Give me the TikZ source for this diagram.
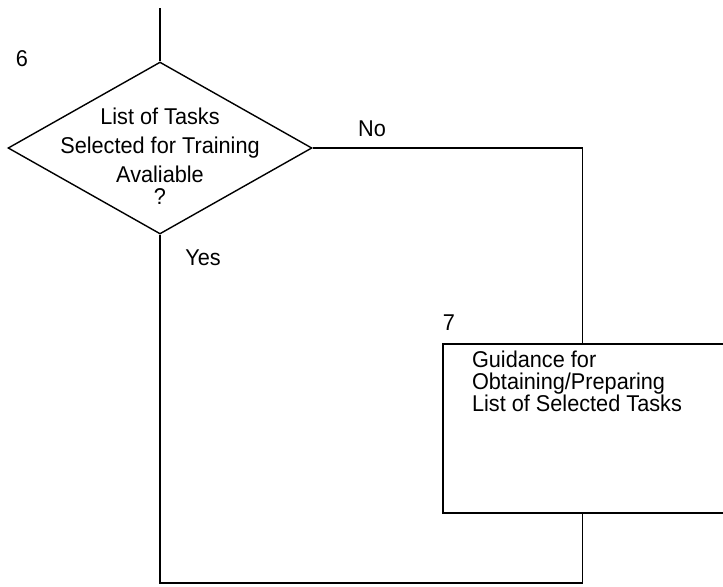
\documentclass[tikz,border=0pt]{standalone}
\usepackage{fontspec}
\setmainfont{Liberation Sans}[FakeStretch=0.95]
\usepackage{tikz}
\usetikzlibrary{shapes.geometric}
\usetikzlibrary{positioning}

\begin{document}
\begin{tikzpicture} [
    x=0.02cm, y=-0.02cm, line width=0.8pt,
    decision/.style = {draw, diamond, minimum width=6.08cm, minimum height=3.44cm, inner sep=0pt},
    process/.style = {draw, rectangle, minimum width=6.54cm, minimum height=3.38cm, inner sep=0pt},
    txt/.style = {inner sep=0pt, font=\fontsize{13}{16.5}\selectfont}
    ]
    \clip (0,0) rectangle (723,586);
    \fill[white] (0,0) rectangle (723,586);

    \node[decision] (q6) at (160,148) {};
    \node[txt, align=center, yshift=-0.17cm] (q6txt) at (q6.center)
        {List of Tasks\\Selected for Training\\Avaliable\\[-4pt]?};
    \node[txt] (lab6) at (22,59) {6};

    \node[process] (t7) at (606.5,428.5) {};
    \node[txt, align=left, anchor=north west, xshift=0.58cm, yshift=-0.13cm,
          font=\fontsize{13}{12.5}\selectfont] (t7txt) at (t7.north west)
        {Guidance for\\Obtaining/Preparing\\List of Selected Tasks};
    \node[txt] (lab7) at (449,323) {7};

    \coordinate (entry) at (160,8);
    \coordinate (t7in) at ([xshift=2.8cm]t7.north west);
    \coordinate (t7out) at ([xshift=2.8cm]t7.south west);
    \coordinate (merge) at (160,583);

    \draw (entry) -- (q6.north);
    \draw (q6.east) -| (t7in);
    \draw (q6.south) -- (merge) -| (t7out);

    \node[txt] (no) at (372,129) {No};
    \node[txt] (yes) at (203,258) {Yes};
  \end{tikzpicture}
\end{document}
